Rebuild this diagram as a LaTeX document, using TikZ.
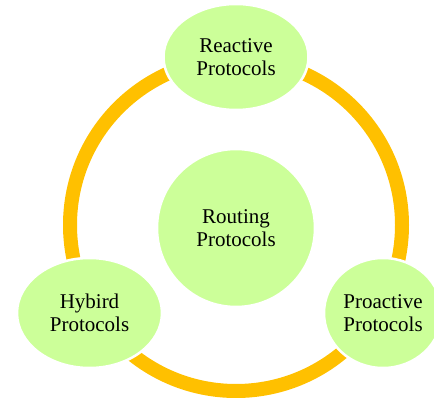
\documentclass[tikz,border=0pt]{standalone}
\usepackage{fontspec}
\setmainfont{Liberation Serif}
\usetikzlibrary{shapes.geometric}
\definecolor{ringgold}{HTML}{FFC000}
\definecolor{leafgreen}{HTML}{CCFF99}
\tikzset{
  bubble/.style={ellipse, fill=leafgreen, draw=white, line width=2.5pt, inner sep=0pt,
    align=center, font=\fontsize{21}{22.5}\selectfont},
  ring/.style={draw=ringgold, line width=14pt}
}
\begin{document}
\begin{tikzpicture}[x=1pt,y=-1pt]
\useasboundingbox (0,0) rectangle (434,398);
\coordinate (ringc) at (236,225);
\draw[ring] (ringc) circle[radius=166];
\node[bubble, minimum width=145pt, minimum height=106pt] (reactive) at (236,57) {Reactive\\Protocols};
\node[bubble, minimum width=145pt, minimum height=110pt] (hybrid) at (89.5,313) {Hybird\\Protocols};
\node[bubble, minimum width=118pt, minimum height=110pt] (proactive) at (383,313) {Proactive\\Protocols};
\node[bubble, minimum width=158pt, minimum height=158pt] (routing) at (236,228) {Routing\\Protocols};
\end{tikzpicture}
\end{document}
